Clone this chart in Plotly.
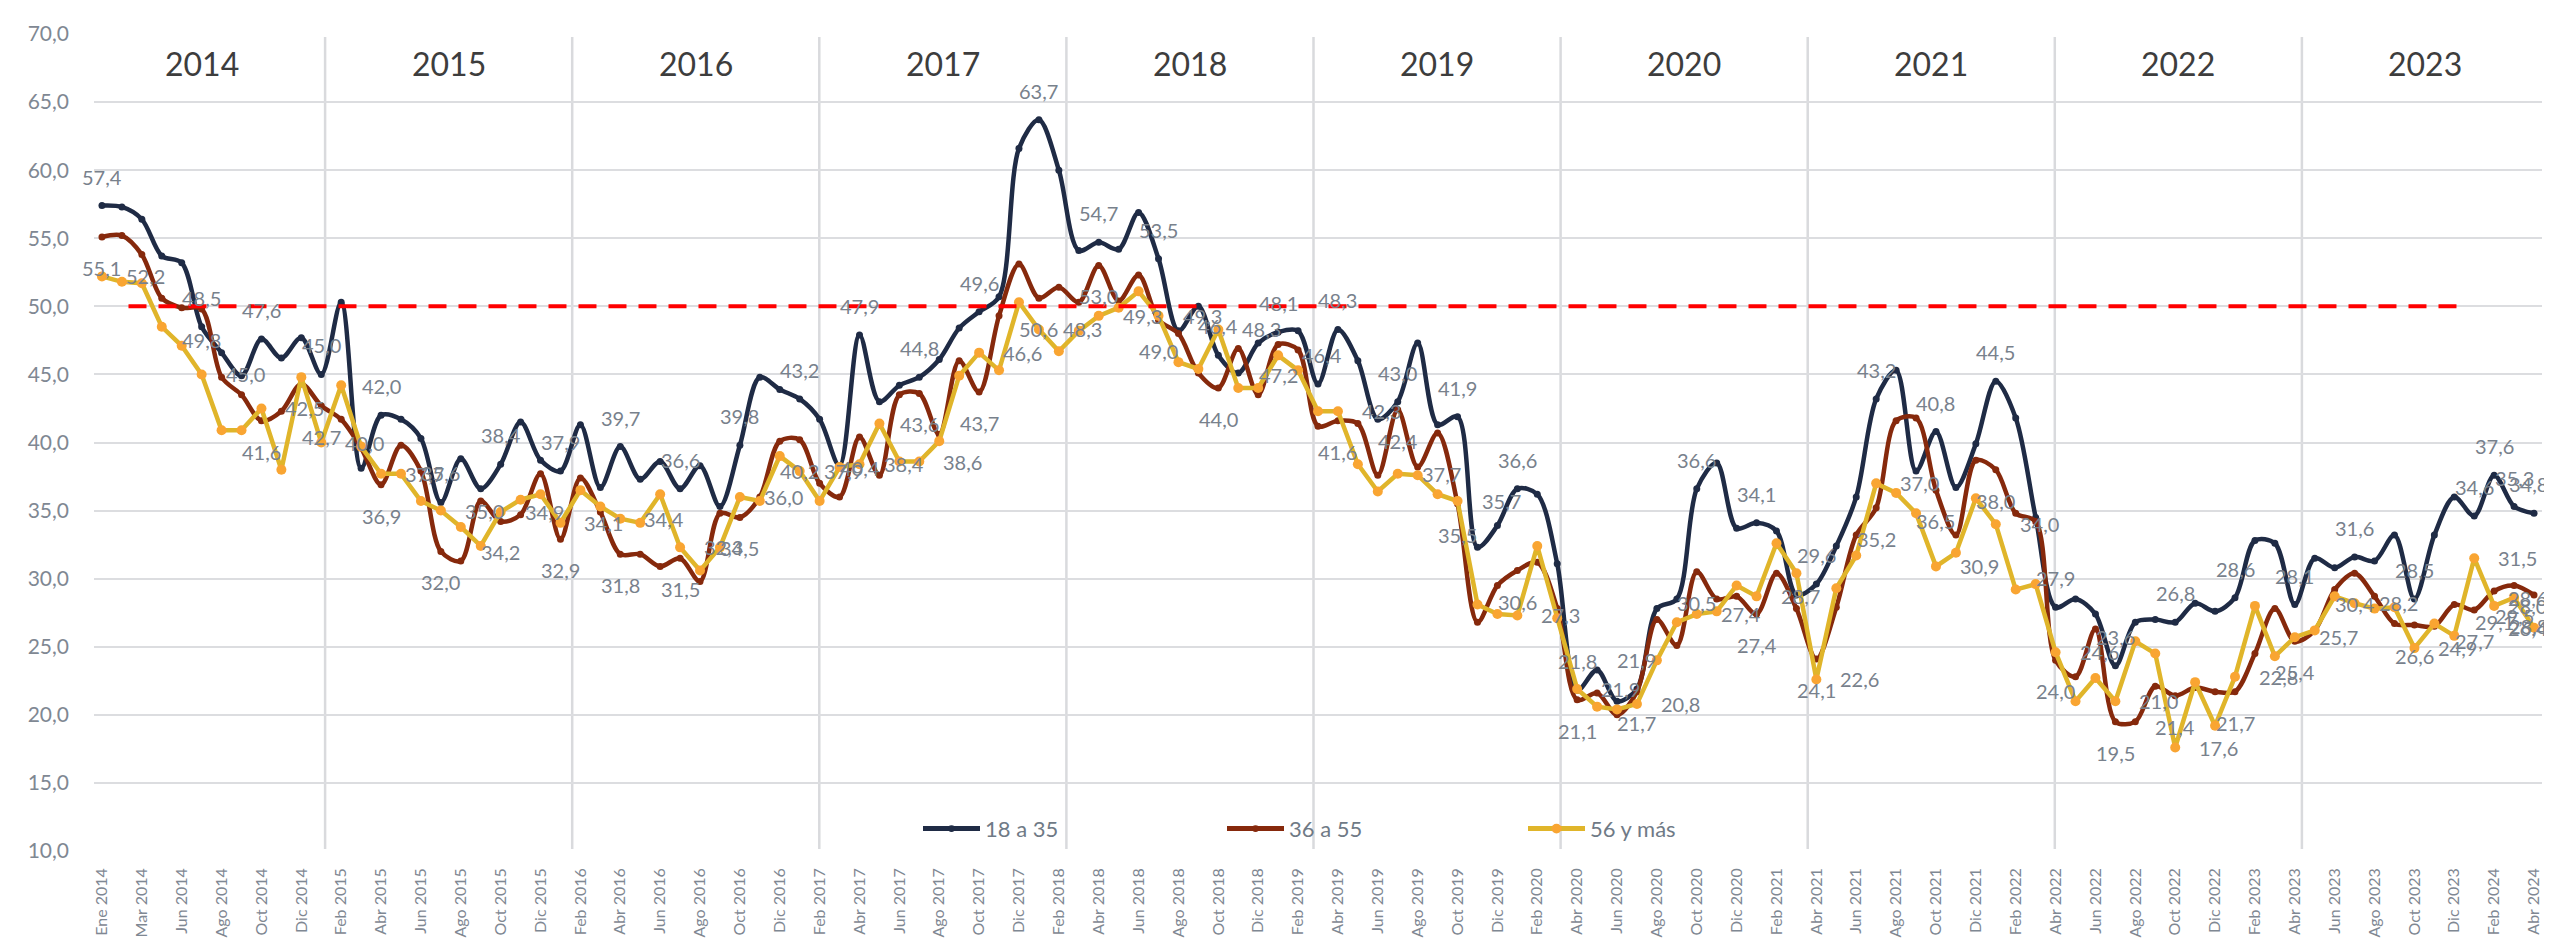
import plotly.graph_objects as go

# ---------------- data ----------------
MONTHS = ["Ene", "Feb", "Mar", "Abr", "May", "Jun", "Jul", "Ago", "Sep", "Oct", "Nov", "Dic"]
categories = [f"{m} {y}" for y in range(2014, 2025) for m in MONTHS]
categories.remove("May 2014")
categories = categories[: categories.index("Abr 2024") + 1]

years = ["2014", "2015", "2016", "2017", "2018", "2019", "2020", "2021", "2022", "2023"]

s18_35 = [57.4, 57.3, 56.4, 53.7, 53.2, 48.5, 46.6, 44.9, 47.6, 46.2, 47.7, 45.0, 50.3, 38.1, 42.0,
          41.7, 40.3, 35.6, 38.8, 36.6, 38.4, 41.5, 38.7, 37.9, 41.3, 36.7, 39.7, 37.3, 38.6, 36.6,
          38.3, 35.3, 39.8, 44.8, 43.9, 43.2, 41.7, 38.3, 47.9, 43.0, 44.2, 44.8, 46.1, 48.4, 49.6,
          50.7, 61.6, 63.7, 60.0, 54.1, 54.7, 54.2, 56.9, 53.5, 48.2, 50.0, 46.4, 45.1, 47.3, 48.1,
          48.2, 44.3, 48.3, 46.0, 41.7, 43.0, 47.3, 41.3, 41.9, 32.3, 33.9, 36.6, 36.2, 31.1, 21.8,
          23.3, 21.0, 21.9, 27.8, 28.5, 36.6, 38.5, 33.7, 34.1, 33.5, 28.8, 29.6, 32.4, 36.0, 43.2,
          45.3, 37.9, 40.8, 36.7, 39.9, 44.5, 41.8, 34.5, 27.9, 28.5, 27.4, 23.6, 26.8, 27.0, 26.8,
          28.2, 27.6, 28.6, 32.8, 32.6, 28.1, 31.5, 30.8, 31.6, 31.3, 33.2, 28.5, 33.2, 36.0, 34.6,
          37.6, 35.3, 34.8]

s36_55 = [55.1, 55.2, 53.8, 50.6, 49.9, 49.8, 44.8, 43.5, 41.6, 42.3, 44.3, 42.7, 41.7, 39.6, 36.9,
          39.8, 37.9, 32.0, 31.3, 35.7, 34.2, 34.7, 37.7, 32.9, 37.4, 34.9, 31.8, 31.8, 30.9, 31.5,
          29.8, 34.8, 34.5, 36.0, 40.1, 40.2, 37.0, 36.0, 40.4, 37.6, 43.5, 43.6, 40.6, 46.0, 43.7,
          49.3, 53.1, 50.6, 51.4, 50.3, 53.0, 50.4, 52.3, 49.0, 48.0, 45.1, 44.0, 46.9, 43.5, 47.2,
          46.8, 41.2, 41.6, 41.4, 37.6, 42.4, 38.2, 40.7, 35.5, 26.8, 29.5, 30.6, 31.2, 27.8, 21.1,
          21.6, 20.0, 21.7, 27.0, 25.1, 30.5, 28.5, 28.7, 27.4, 30.4, 27.8, 24.1, 27.9, 33.2, 35.2,
          41.6, 41.8, 36.5, 33.2, 38.7, 38.0, 34.8, 34.2, 24.0, 22.8, 26.3, 19.5, 19.5, 22.1, 21.4,
          22.0, 21.7, 21.7, 24.5, 27.8, 25.4, 26.2, 29.2, 30.4, 28.7, 26.7, 26.6, 26.5, 28.1, 27.7,
          29.1, 29.5, 28.8]

s56_mas = [52.2, 51.8, 51.7, 48.5, 47.1, 45.0, 40.9, 40.9, 42.5, 38.0, 44.8, 40.0, 44.2, 39.7, 37.7,
           37.7, 35.7, 35.0, 33.8, 32.4, 34.9, 35.8, 36.2, 34.1, 36.5, 35.3, 34.4, 34.1, 36.2, 32.3,
           30.6, 32.3, 36.0, 35.7, 39.0, 37.9, 35.7, 38.2, 38.4, 41.4, 38.6, 38.6, 40.1, 44.9, 46.6,
           45.3, 50.3, 48.3, 46.7, 48.2, 49.3, 49.9, 51.1, 49.3, 45.9, 45.4, 48.3, 44.0, 44.0, 46.4,
           45.3, 42.3, 42.3, 38.4, 36.4, 37.7, 37.6, 36.2, 35.7, 28.1, 27.4, 27.3, 32.4, 27.1, 21.9,
           20.6, 20.4, 20.8, 24.0, 26.8, 27.4, 27.6, 29.5, 28.7, 32.6, 30.4, 22.6, 29.3, 31.7, 37.0,
           36.3, 34.8, 30.9, 31.9, 35.9, 34.0, 29.2, 29.6, 24.6, 21.0, 22.7, 21.0, 25.4, 24.5, 17.6,
           22.4, 19.2, 22.8, 28.0, 24.3, 25.7, 26.2, 28.7, 28.2, 27.8, 27.9, 24.9, 26.7, 25.8, 31.5,
           28.0, 28.6, 26.4]

series_names = ["18 a 35", "36 a 55", "56 y más"]
label_idx = [0] + list(range(5, len(categories), 3)) + [120, 121]
threshold = 50.0
threshold_span = (1.33, 118.5)

# ---------------- layout constants (pixels) ----------------
W, H = 2552, 942
PL, PR, PT, PB = 86, 2534, 22, 860          # plot area
PW, PH = PR - PL, PB - PT
XMIN, XMAX = -0.4, len(categories) - 0.6
BAND_LEFT, BAND_W = 70.0, 247.1             # year band geometry


def px(xpix):
    return (xpix - PL) / PW


def py(ypix):
    return (PB - ypix) / PH


def xpix_of(i):
    return PL + (i - XMIN) / (XMAX - XMIN) * PW


NAVY = "#1f2b45"
RED = "#86290c"
GOLD = "#e0b52a"
ORANGE = "#f9a532"
LABEL = "#78818c"
FONT = "Lato"

x = list(range(len(categories)))

fig = go.Figure()
styles = [
    dict(color=NAVY, shape="spline", mcolor=NAVY, msize=7),
    dict(color=RED, shape="spline", mcolor=RED, msize=7),
    dict(color=GOLD, shape="linear", mcolor=ORANGE, msize=10),
]
all_series = [s18_35, s36_55, s56_mas]
for name, vals, st in zip(series_names, all_series, styles):
    fig.add_trace(go.Scatter(
        x=x, y=vals, name=name, mode="lines+markers",
        line=dict(color=st["color"], width=4.5, shape=st["shape"], smoothing=0.9),
        marker=dict(color=st["mcolor"], size=st["msize"]),
        showlegend=False, cliponaxis=False,
    ))

# threshold line
fig.add_trace(go.Scatter(
    x=list(threshold_span), y=[threshold, threshold], mode="lines",
    line=dict(color="#ff0000", width=4, dash="18px,12px"), showlegend=False,
))


def fmt(v):
    return f"{v:.1f}".replace(".", ",")


LBL_FONT = dict(family=FONT, size=20, color=LABEL)
LBL_W = 44
annotations = []


def centered_shift(i):
    """keep centred labels inside the figure"""
    over = (xpix_of(i) + LBL_W / 2) - (W - 10)
    return -over if over > 0 else 0


# data labels: navy above, red below, yellow right
for i in label_idx:
    annotations.append(dict(x=i, y=s18_35[i], text=fmt(s18_35[i]), showarrow=False,
                            xanchor="center", yanchor="middle", yshift=29,
                            xshift=centered_shift(i), font=LBL_FONT))
    annotations.append(dict(x=i, y=s36_55[i], text=fmt(s36_55[i]), showarrow=False,
                            xanchor="center", yanchor="middle", yshift=-31,
                            xshift=centered_shift(i), font=LBL_FONT))
    xs = 22
    room = (W - 10) - (xpix_of(i) + xs + LBL_W)
    if room < 0:
        xs += room
    annotations.append(dict(x=i, y=s56_mas[i], text=fmt(s56_mas[i]), showarrow=False,
                            xanchor="left", yanchor="middle", xshift=xs, font=LBL_FONT))

shapes = []
# year bands
for k, yr in enumerate(years):
    cx = BAND_LEFT + BAND_W * (k + 0.5)
    annotations.append(dict(xref="paper", yref="paper", x=px(cx), y=py(52), text=yr,
                            xanchor="center", yanchor="middle", showarrow=False,
                            font=dict(family=FONT, size=32, color="#3d3d3d")))
    if k > 0:
        sx = px(BAND_LEFT + BAND_W * k)
        shapes.append(dict(type="line", xref="paper", yref="paper", x0=sx, x1=sx,
                           y0=py(858), y1=py(25), line=dict(color="#d9dadd", width=2.5), layer="below"))

# custom legend
leg_y = py(837)
leg_items = [(915, NAVY, NAVY, 7), (1219, RED, RED, 7), (1520, GOLD, ORANGE, 10)]
for (lx, lc, mc, ms), name in zip(leg_items, series_names):
    shapes.append(dict(type="line", xref="paper", yref="paper", x0=px(lx), x1=px(lx + 57),
                       y0=leg_y, y1=leg_y, line=dict(color=lc, width=5)))
    cxm = lx + 28.5
    shapes.append(dict(type="circle", xref="paper", yref="paper",
                       x0=px(cxm - ms / 2), x1=px(cxm + ms / 2),
                       y0=leg_y - (ms / 2) / PH, y1=leg_y + (ms / 2) / PH,
                       fillcolor=mc, line=dict(color=mc, width=0)))
    annotations.append(dict(xref="paper", yref="paper", x=px(lx + 60), y=leg_y, text=name,
                            xanchor="left", yanchor="middle", showarrow=False,
                            font=dict(family=FONT, size=22, color="#6f7a86")))

fig.update_layout(
    width=W, height=H,
    margin=dict(l=PL, r=W - PR, t=PT, b=H - PB),
    paper_bgcolor="white", plot_bgcolor="white",
    separators=", ",
    font=dict(family=FONT, color="#7f8893"),
    annotations=annotations, shapes=shapes,
    xaxis=dict(range=[XMIN, XMAX], tickmode="array",
               tickvals=x[::2], ticktext=categories[::2], tickangle=-90,
               showgrid=False, zeroline=False, showline=False, ticks="",
               tickfont=dict(family=FONT, size=16, color="#7f8893"), ticklabelstandoff=13),
    yaxis=dict(range=[10, 70], dtick=5, tickformat=".1f", showgrid=True,
               gridcolor="#dcdde0", gridwidth=2, zeroline=False, showline=False, ticks="",
               tickfont=dict(family=FONT, size=21, color="#7f8893"), ticklabelstandoff=24),
)

fig.write_html("out.html")
